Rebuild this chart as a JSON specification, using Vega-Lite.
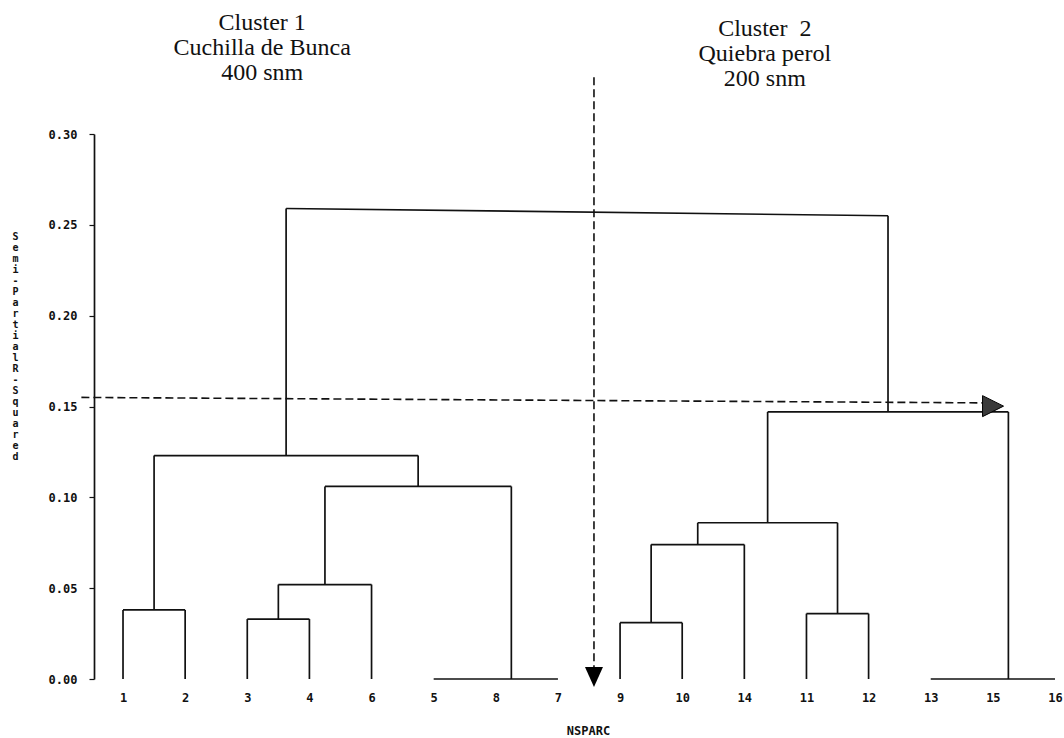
{
  "$schema": "https://vega.github.io/schema/vega-lite/v6.json",
  "autosize": "none",
  "width": 970,
  "height": 545,
  "padding": {"left": 94, "top": 134, "right": 0, "bottom": 59},
  "background": "white",
  "config": {"view": {"stroke": null}},
  "datasets": {
    "tree": [
      {"x": 1, "x2": 1, "y": 0, "y2": 0.038},
      {"x": 2, "x2": 2, "y": 0, "y2": 0.038},
      {"x": 1, "x2": 2, "y": 0.038, "y2": 0.038},
      {"x": 3, "x2": 3, "y": 0, "y2": 0.033},
      {"x": 4, "x2": 4, "y": 0, "y2": 0.033},
      {"x": 3, "x2": 4, "y": 0.033, "y2": 0.033},
      {"x": 3.5, "x2": 3.5, "y": 0.033, "y2": 0.052},
      {"x": 5, "x2": 5, "y": 0, "y2": 0.052},
      {"x": 3.5, "x2": 5, "y": 0.052, "y2": 0.052},
      {"x": 4.25, "x2": 4.25, "y": 0.052, "y2": 0.106},
      {"x": 6, "x2": 8, "y": 0, "y2": 0},
      {"x": 7.25, "x2": 7.25, "y": 0, "y2": 0.106},
      {"x": 4.25, "x2": 7.25, "y": 0.106, "y2": 0.106},
      {"x": 1.5, "x2": 1.5, "y": 0.038, "y2": 0.123},
      {"x": 5.75, "x2": 5.75, "y": 0.106, "y2": 0.123},
      {"x": 1.5, "x2": 5.75, "y": 0.123, "y2": 0.123},
      {"x": 3.625, "x2": 3.625, "y": 0.123, "y2": 0.259},
      {"x": 3.625, "x2": 13.3125, "y": 0.259, "y2": 0.255},
      {"x": 9, "x2": 9, "y": 0, "y2": 0.031},
      {"x": 10, "x2": 10, "y": 0, "y2": 0.031},
      {"x": 9, "x2": 10, "y": 0.031, "y2": 0.031},
      {"x": 9.5, "x2": 9.5, "y": 0.031, "y2": 0.074},
      {"x": 11, "x2": 11, "y": 0, "y2": 0.074},
      {"x": 9.5, "x2": 11, "y": 0.074, "y2": 0.074},
      {"x": 10.25, "x2": 10.25, "y": 0.074, "y2": 0.086},
      {"x": 12, "x2": 12, "y": 0, "y2": 0.036},
      {"x": 13, "x2": 13, "y": 0, "y2": 0.036},
      {"x": 12, "x2": 13, "y": 0.036, "y2": 0.036},
      {"x": 12.5, "x2": 12.5, "y": 0.036, "y2": 0.086},
      {"x": 10.25, "x2": 12.5, "y": 0.086, "y2": 0.086},
      {"x": 11.375, "x2": 11.375, "y": 0.086, "y2": 0.147},
      {"x": 14, "x2": 16, "y": 0, "y2": 0},
      {"x": 15.25, "x2": 15.25, "y": 0, "y2": 0.147},
      {"x": 11.375, "x2": 15.25, "y": 0.147, "y2": 0.147},
      {"x": 13.3125, "x2": 13.3125, "y": 0.147, "y2": 0.255}
    ],
    "cut": [
      {"x": 0.33, "x2": 14.84, "y": 0.155, "y2": 0.152},
      {"x": 8.58, "x2": 8.58, "y": 0.3313, "y2": 0.0066}
    ],
    "arrows": [
      {"x": 8.58, "y": 0.0011, "dir": "down"},
      {"x": 15.003, "y": 0.1502, "dir": "right"}
    ],
    "notes": [
      {"x": 3.24, "y": 0.3572, "label": "Cluster 1\nCuchilla de Bunca\n400 snm"},
      {"x": 11.33, "y": 0.3539, "label": "Cluster \u00a02\nQuiebra perol\n200 snm"}
    ]
  },
  "layer": [
    {
      "data": {"name": "tree"},
      "mark": {"type": "rule", "color": "#111111", "strokeWidth": 1.7, "clip": false},
      "encoding": {
        "x": {
          "field": "x", "type": "quantitative",
          "scale": {"domain": [0.533, 16.145], "nice": false, "zero": false},
          "axis": {
            "values": [1, 2, 3, 4, 5, 6, 7, 8, 9, 10, 11, 12, 13, 14, 15, 16],
            "labelExpr": "['1','2','3','4','6','5','8','7','9','10','14','11','12','13','15','16'][datum.value-1]",
            "domain": false, "ticks": false, "tickSize": 0, "grid": false,
            "labelPadding": 13, "labelFont": "DejaVu Sans Mono", "labelFontWeight": "bold",
            "labelFontSize": 12, "labelColor": "#111111", "labelFlush": false,
            "title": "NSPARC", "titleFont": "DejaVu Sans Mono", "titleFontWeight": "bold",
            "titleFontSize": 12, "titleColor": "#111111",
            "titleX": 494, "titleY": 51, "titleAlign": "center", "titleBaseline": "middle", "titleAnchor": null
          }
        },
        "x2": {"field": "x2"},
        "y": {
          "field": "y", "type": "quantitative",
          "scale": {"domain": [0, 0.3], "nice": false, "zero": true},
          "axis": {
            "values": [0, 0.05, 0.1, 0.15, 0.2, 0.25, 0.3],
            "format": ".2f", "grid": false,
            "domainColor": "#111111", "domainWidth": 1.7,
            "tickColor": "#111111", "tickSize": 5, "tickWidth": 1.2,
            "labelPadding": 12, "labelFont": "DejaVu Sans Mono", "labelFontWeight": "bold",
            "labelFontSize": 12, "labelColor": "#111111", "labelFlush": false,
            "title": ["S","e","m","i","-","P","a","r","t","i","a","l","\u00a0","R","-","S","q","u","a","r","e","d"],
            "titleAngle": 0, "titleX": -79, "titleY": 97, "titleAlign": "center", "titleBaseline": "top",
            "titleLineHeight": 11, "titleFont": "DejaVu Sans Mono", "titleFontWeight": "bold",
            "titleFontSize": 10, "titleColor": "#111111", "titleAnchor": null
          }
        },
        "y2": {"field": "y2"}
      }
    },
    {
      "data": {"name": "cut"},
      "mark": {"type": "rule", "color": "#111111", "strokeWidth": 1.6, "strokeDash": [8, 4], "clip": false},
      "encoding": {
        "x": {"field": "x", "type": "quantitative"},
        "x2": {"field": "x2"},
        "y": {"field": "y", "type": "quantitative"},
        "y2": {"field": "y2"}
      }
    },
    {
      "data": {"name": "arrows"},
      "transform": [{"filter": "datum.dir == 'down'"}],
      "mark": {"type": "point", "shape": "M-0.9,-1L0.9,-1L0,1Z", "size": 400, "filled": true, "color": "#000000", "opacity": 1, "clip": false},
      "encoding": {
        "x": {"field": "x", "type": "quantitative"},
        "y": {"field": "y", "type": "quantitative"}
      }
    },
    {
      "data": {"name": "arrows"},
      "transform": [{"filter": "datum.dir == 'right'"}],
      "mark": {"type": "point", "shape": "M-1,-1L1,0L-1,1Z", "size": 441, "filled": true, "fill": "#3a3a3a", "stroke": "#000000", "strokeWidth": 1, "opacity": 1, "clip": false},
      "encoding": {
        "x": {"field": "x", "type": "quantitative"},
        "y": {"field": "y", "type": "quantitative"}
      }
    },
    {
      "data": {"name": "notes"},
      "mark": {"type": "text", "font": "Liberation Serif", "fontSize": 24, "lineHeight": 25, "lineBreak": "\n", "align": "center", "baseline": "alphabetic", "color": "#111111", "clip": false},
      "encoding": {
        "x": {"field": "x", "type": "quantitative"},
        "y": {"field": "y", "type": "quantitative"},
        "text": {"field": "label"}
      }
    }
  ]
}
